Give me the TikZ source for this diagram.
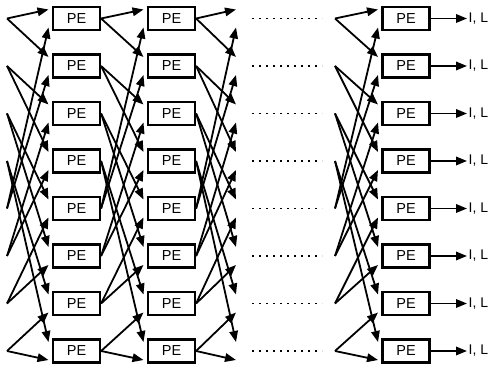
\documentclass[tikz,border=0pt]{standalone}
\usepackage{fontspec}
\setmainfont{Liberation Sans}
\usetikzlibrary{arrows.meta}
\begin{document}
\begin{tikzpicture}[x=1pt,y=1pt,
  pe/.style={draw, line width=2.2pt, minimum width=47pt, minimum height=23pt, inner sep=0pt, font=\fontsize{14.5}{15}\selectfont},
  link/.style={line width=1.8pt, -{Triangle[length=11pt,width=8.5pt]}},
  dotline/.style={line width=1.6pt, dash pattern=on 1.6pt off 5.4pt},
  lab/.style={anchor=west, inner sep=1.5pt, font=\fontsize{14}{15}\selectfont}]
\useasboundingbox (0,0) rectangle (498,367);
\foreach \r in {0,...,7} {
  \pgfmathsetmacro\y{348.5-47.5*\r}
  \node[pe] (a\r) at (76.5,\y) {PE};
  \node[pe] (b\r) at (171.5,\y) {PE};
  \node[pe] (d\r) at (406,\y) {PE};
  \node[lab] (o\r) at (467,\y) {I, L};
  \coordinate (s\r) at (7,\y);
  \coordinate (t\r) at (335,\y);
  \coordinate (au\r) at (48.5,\y+9);
  \coordinate (al\r) at (48.5,\y-9);
  \coordinate (bu\r) at (143.5,\y+9);
  \coordinate (bl\r) at (143.5,\y-9);
  \coordinate (cu\r) at (236,\y+9);
  \coordinate (cl\r) at (236,\y-9);
  \coordinate (du\r) at (378,\y+9);
  \coordinate (dl\r) at (378,\y-9);
  \draw[dotline] (252,\y) -- (322,\y);
}
\foreach \j in {0,...,7} {
  \pgfmathtruncatemacro\p{int(\j/2)}
  \pgfmathtruncatemacro\q{\p+4}
  \draw[link] (s\p) -- (au\j);
  \draw[link] (s\q) -- (al\j);
  \draw[link] (a\p.east) -- (bu\j);
  \draw[link] (a\q.east) -- (bl\j);
  \draw[link] (b\p.east) -- (cu\j);
  \draw[link] (b\q.east) -- (cl\j);
  \draw[link] (t\p) -- (du\j);
  \draw[link] (t\q) -- (dl\j);
  \draw[link] (d\j.east) -- (o\j.west);
}
\end{tikzpicture}
\end{document}
